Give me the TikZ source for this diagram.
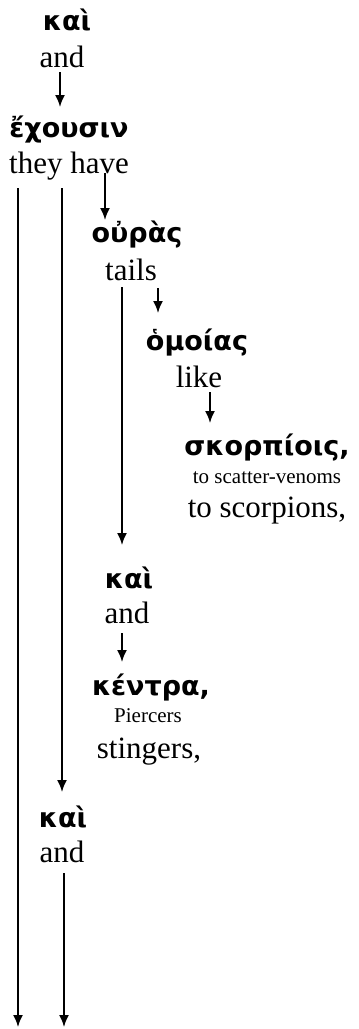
\documentclass[tikz,border=0pt]{standalone}
\usepackage{fontspec}
\setmainfont{Liberation Serif}
\newfontfamily\grk{DejaVu Sans}
\usetikzlibrary{arrows.meta}
\begin{document}
\begin{tikzpicture}[x=1pt,y=-1pt,
  gr/.style={anchor=base,inner sep=0pt,font=\grk\bfseries\fontsize{27}{27}\selectfont},
  en/.style={anchor=base,inner sep=0pt,font=\fontsize{31}{31}\selectfont},
  sm/.style={anchor=base,inner sep=0pt,font=\fontsize{21}{21}\selectfont},
  arr/.style={line width=1.8pt,-{Latex[length=12pt,width=10pt]}}]
\useasboundingbox[fill=white] (0,0) rectangle (359,1029);
\node[gr] (kai1) at (67,30) {καὶ};
\node[en] (and1) at (62,67) {and};
\node[gr] (echousin) at (69,137) {ἔχουσιν};
\node[en] (theyhave) at (69,173) {they have};
\node[gr] (ouras) at (137,242) {οὐρὰς};
\node[en] (tails) at (131,280) {tails};
\node[gr] (homoias) at (197,350) {ὁμοίας};
\node[en] (like) at (199,387) {like};
\node[gr] (skorpiois) at (267,455) {σκορπίοις,};
\node[sm] (scatter) at (267,483) {to scatter-venoms};
\node[en] (scorpions) at (267,517) {to scorpions,};
\node[gr] (kai2) at (129,588) {καὶ};
\node[en] (and2) at (127,623) {and};
\node[gr] (kentra) at (151,695) {κέντρα,};
\node[sm] (piercers) at (148,722) {Piercers};
\node[en] (stingers) at (149,758) {stingers,};
\node[gr] (kai3) at (63,827) {καὶ};
\node[en] (and3) at (62,862) {and};
\coordinate (e1) at (18,1027);
\coordinate (e2) at (64,1027);
\draw[arr] ([shift={(-2,5)}]and1.base) -- ([shift={(-9,-30)}]echousin.base);
\draw[arr] ([shift={(-51,15)}]theyhave.base) -- (e1);
\draw[arr] ([shift={(-7,15)}]theyhave.base) -- ([shift={(-1,-35)}]kai3.base);
\draw[arr] ([shift={(36,0)}]theyhave.base) -- ([shift={(-32,-22)}]ouras.base);
\draw[arr] ([shift={(-9,7)}]tails.base) -- ([shift={(-7,-43)}]kai2.base);
\draw[arr] ([shift={(27,8)}]tails.base) -- ([shift={(-39,-37)}]homoias.base);
\draw[arr] ([shift={(11,5)}]like.base) -- ([shift={(-57,-32)}]skorpiois.base);
\draw[arr] ([shift={(-5,10)}]and2.base) -- ([shift={(-29,-33)}]kentra.base);
\draw[arr] ([shift={(2,11)}]and3.base) -- (e2);
\end{tikzpicture}
\end{document}
